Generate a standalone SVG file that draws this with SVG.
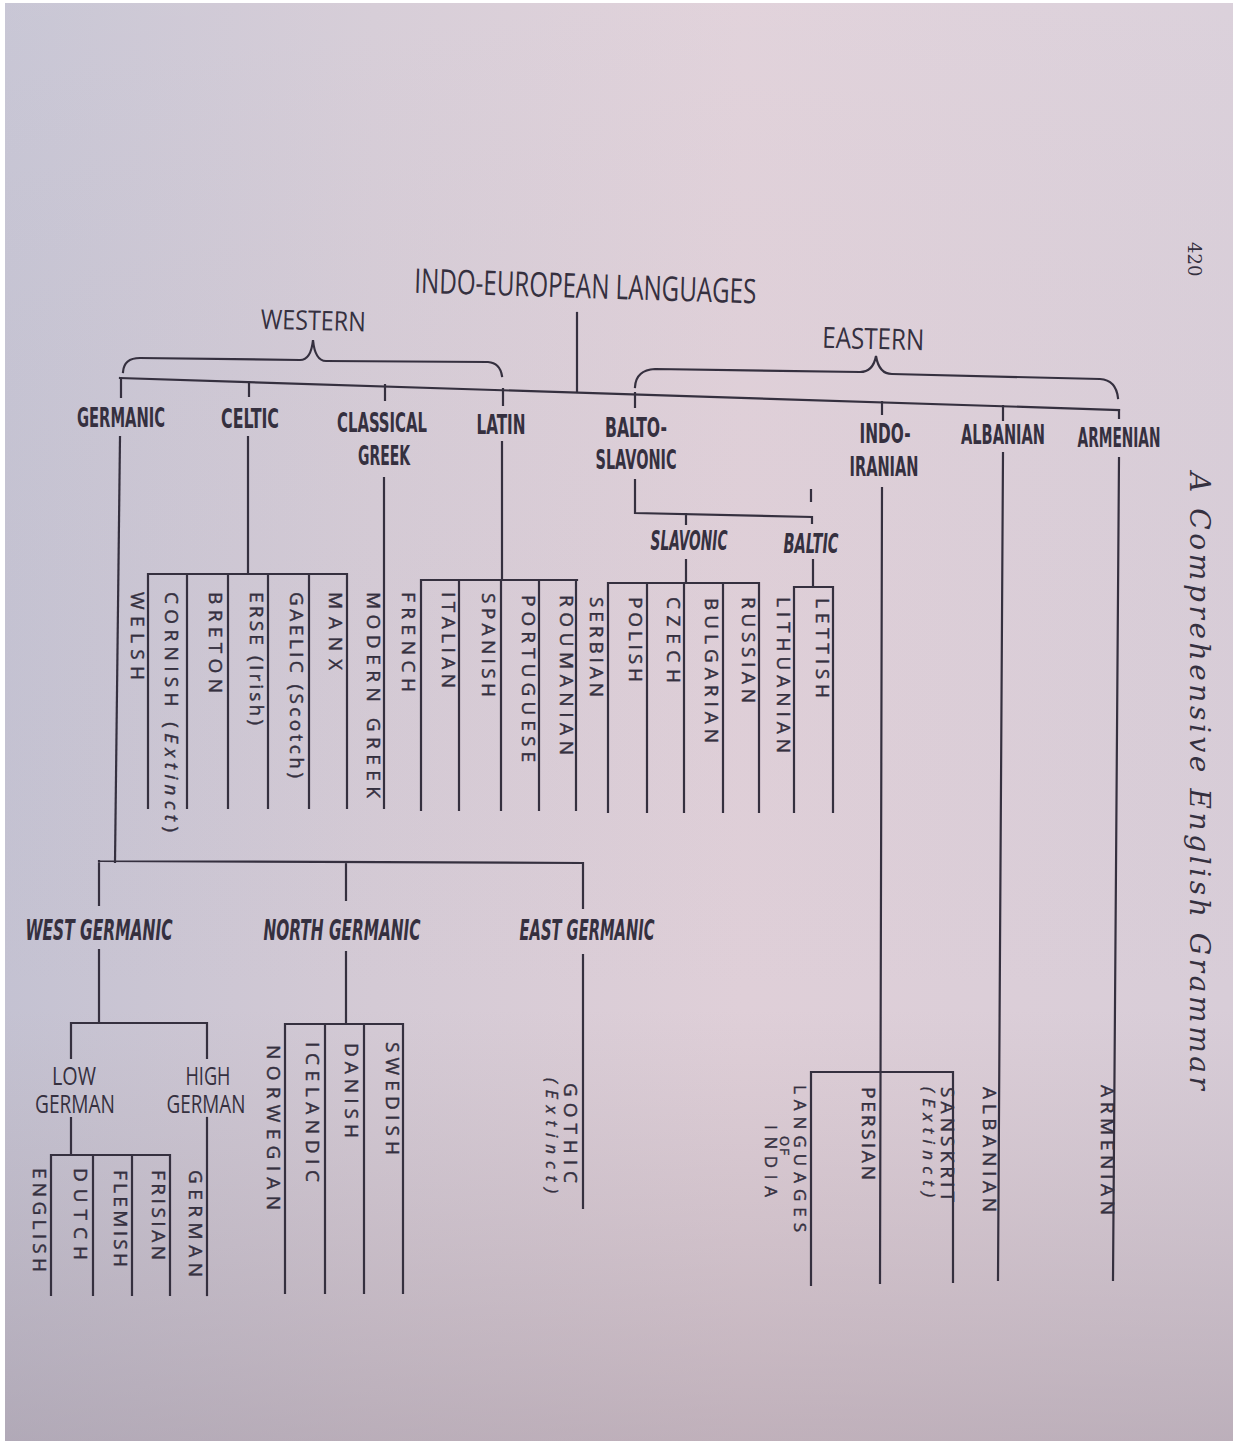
<svg xmlns="http://www.w3.org/2000/svg" width="1239" height="1447" viewBox="0 0 1239 1447">
<defs>
<linearGradient id="bgx" x1="0" y1="0" x2="1" y2="0">
<stop offset="0" stop-color="#c4c2d2"/>
<stop offset="0.3" stop-color="#d4cad5"/>
<stop offset="0.6" stop-color="#dfcfd8"/>
<stop offset="1" stop-color="#d8cdd8"/>
</linearGradient>
<linearGradient id="bgy" x1="0" y1="0" x2="0" y2="1">
<stop offset="0" stop-color="#ffffff" stop-opacity="0.08"/>
<stop offset="0.7" stop-color="#a8999f" stop-opacity="0"/>
<stop offset="1" stop-color="#9a8b97" stop-opacity="0.45"/>
</linearGradient>
<style>
.ln{stroke:#35303f;stroke-width:2.2;fill:none;stroke-linecap:square}
.t{font-family:"Open Sans","DejaVu Sans",sans-serif;fill:#35303f}
.lf{font-size:19px;stroke:#35303f;stroke-width:0.45}
.sm{font-size:17px;stroke:#35303f;stroke-width:0.4}
.b{font-family:"DejaVu Sans Condensed","DejaVu Sans",sans-serif;font-weight:bold;font-size:26px;fill:#35303f}
.bi{font-family:"DejaVu Sans Condensed","DejaVu Sans",sans-serif;font-weight:bold;font-style:italic;font-size:28px;fill:#35303f}
.it{font-style:italic}
.sf{font-family:"DejaVu Serif","Liberation Serif",serif;fill:#35303f}
</style>
</defs>
<rect x="0" y="0" width="1239" height="1447" fill="#ffffff"/>
<rect x="5" y="3" width="1228" height="1438" fill="url(#bgx)"/>
<rect x="5" y="3" width="1228" height="1438" fill="url(#bgy)"/>

<g id="connectors">
<path class="ln" d="M120,378 L1119,410"/>
<path class="ln" d="M577,313 V391"/>
<path class="ln" d="M121,378 V397 M249,382 V396 M385,385 V400 M503,389 V405 M635,393 V407 M882,402 V414 M1003,406 V420 M1119,410 V418"/>
<path class="ln" d="M123,372 Q124,358 140,358 L300,360 Q311,360 313,340 Q315,361 326,361 L488,362 Q500,363 502,376"/>
<path class="ln" d="M635,387 Q636,370 655,369 L860,372 Q873,372 876,356 Q879,374 892,374 L1100,379 Q1116,380 1118,398"/>
<path class="ln" d="M120,437 L115,862"/>
<path class="ln" d="M248,437 V574 M148,574 H347 M148,574 V808 M187,574 V808 M228,574 V808 M268,574 V808 M309,574 V808 M347,574 V808"/>
<path class="ln" d="M384,478 V808"/>
<path class="ln" d="M502,442 V580 M421,580 H577 M421,580 V810 M459,580 V810 M501,580 V810 M539,580 V810 M576,580 V810"/>
<path class="ln" d="M635,480 V513 L812,517 V523 M811,490 V501 M686,514 V524"/>
<path class="ln" d="M686,560 V583 M608,583 H759 M608,583 V812 M647,583 V812 M684,583 V812 M723,583 V812 M759,583 V812"/>
<path class="ln" d="M813,560 V587 M794,587 H833 M794,587 V812 M833,587 V812"/>
<path class="ln" d="M99,861 L583,863 M99,861 V905 M346,862 V900 M583,863 V908"/>
<path class="ln" d="M99,950 V1023 M71,1023 H207 M71,1023 V1058 M207,1023 V1058"/>
<path class="ln" d="M71,1118 V1155 M51,1155 H170 M51,1155 V1295 M93,1155 V1295 M132,1155 V1295 M170,1155 V1295"/>
<path class="ln" d="M207,1118 V1295"/>
<path class="ln" d="M346,952 V1024 M285,1024 H403 M285,1024 V1293 M325,1024 V1293 M364,1024 V1293 M403,1024 V1293"/>
<path class="ln" d="M583,955 V1208"/>
<path class="ln" d="M882,488 L880,1283 M811,1072 H953 M811,1072 V1285 M953,1072 V1282"/>
<path class="ln" d="M1003,453 L998,1280"/>
<path class="ln" d="M1119,458 L1113,1280"/>
</g>

<g id="root"><text class="t" x="585" y="298" font-size="34" text-anchor="middle" textLength="342" lengthAdjust="spacingAndGlyphs" transform="rotate(1.8 585 298)">INDO-EUROPEAN LANGUAGES</text></g>
<g id="western"><text class="t" x="313" y="330" font-size="27" text-anchor="middle" textLength="105" lengthAdjust="spacingAndGlyphs" transform="rotate(1.5 313 330)">WESTERN</text></g>
<g id="eastern"><text class="t" x="873" y="349" font-size="29" text-anchor="middle" textLength="102" lengthAdjust="spacingAndGlyphs" transform="rotate(1.5 873 349)">EASTERN</text></g>

<g id="germanic"><text class="b" x="121" y="427" text-anchor="middle" textLength="88" lengthAdjust="spacingAndGlyphs">GERMANIC</text></g>
<g id="celtic"><text class="b" x="250" y="428" text-anchor="middle" textLength="58" lengthAdjust="spacingAndGlyphs">CELTIC</text></g>
<g id="classical-greek"><text class="b" x="382" y="432" text-anchor="middle" textLength="90" lengthAdjust="spacingAndGlyphs">CLASSICAL</text><text class="b" x="384" y="465" text-anchor="middle" textLength="52" lengthAdjust="spacingAndGlyphs">GREEK</text></g>
<g id="latin"><text class="b" x="501" y="434" text-anchor="middle" textLength="49" lengthAdjust="spacingAndGlyphs">LATIN</text></g>
<g id="balto-slavonic"><text class="b" x="636" y="437" text-anchor="middle" textLength="62" lengthAdjust="spacingAndGlyphs">BALTO-</text><text class="b" x="636" y="469" text-anchor="middle" textLength="81" lengthAdjust="spacingAndGlyphs">SLAVONIC</text></g>
<g id="indo-iranian"><text class="b" x="885" y="443" text-anchor="middle" textLength="51" lengthAdjust="spacingAndGlyphs">INDO-</text><text class="b" x="884" y="476" text-anchor="middle" textLength="69" lengthAdjust="spacingAndGlyphs">IRANIAN</text></g>
<g id="albanian-group"><text class="b" x="1003" y="444" text-anchor="middle" textLength="84" lengthAdjust="spacingAndGlyphs">ALBANIAN</text></g>
<g id="armenian-group"><text class="b" x="1119" y="447" text-anchor="middle" textLength="83" lengthAdjust="spacingAndGlyphs">ARMENIAN</text></g>
<g id="slavonic"><text class="bi" x="689" y="550" text-anchor="middle" textLength="77" lengthAdjust="spacingAndGlyphs" style="font-size:26px">SLAVONIC</text></g>
<g id="baltic"><text class="bi" x="811" y="553" text-anchor="middle" textLength="55" lengthAdjust="spacingAndGlyphs" style="font-size:26px">BALTIC</text></g>
<g id="west-germanic"><text class="bi" x="99" y="940" text-anchor="middle" textLength="147" lengthAdjust="spacingAndGlyphs">WEST GERMANIC</text></g>
<g id="north-germanic"><text class="bi" x="342" y="940" text-anchor="middle" textLength="157" lengthAdjust="spacingAndGlyphs">NORTH GERMANIC</text></g>
<g id="east-germanic"><text class="bi" x="587" y="940" text-anchor="middle" textLength="135" lengthAdjust="spacingAndGlyphs">EAST GERMANIC</text></g>
<g id="low-german"><text class="t" x="74" y="1085" font-size="26" text-anchor="middle" textLength="44" lengthAdjust="spacingAndGlyphs">LOW</text><text class="t" x="75" y="1113" font-size="26" text-anchor="middle" textLength="80" lengthAdjust="spacingAndGlyphs">GERMAN</text></g>
<g id="high-german"><text class="t" x="208" y="1085" font-size="26" text-anchor="middle" textLength="45" lengthAdjust="spacingAndGlyphs">HIGH</text><text class="t" x="206" y="1113" font-size="26" text-anchor="middle" textLength="79" lengthAdjust="spacingAndGlyphs">GERMAN</text></g>

<g id="welsh"><text class="t lf" transform="translate(131,592) rotate(90)" textLength="88">WELSH</text></g>
<g id="cornish"><text class="t lf" transform="translate(165,592) rotate(90)" textLength="240">CORNISH (<tspan class="it">Extinct</tspan>)</text></g>
<g id="breton"><text class="t lf" transform="translate(209,592) rotate(90)" textLength="101">BRETON</text></g>
<g id="erse"><text class="t lf" transform="translate(250,592) rotate(90)" textLength="133">ERSE (Irish)</text></g>
<g id="gaelic"><text class="t lf" transform="translate(290,592) rotate(90)" textLength="186">GAELIC (Scotch)</text></g>
<g id="manx"><text class="t lf" transform="translate(329,592) rotate(90)" textLength="78">MANX</text></g>
<g id="modern-greek"><text class="t lf" transform="translate(367,592) rotate(90)" textLength="206">MODERN GREEK</text></g>
<g id="french"><text class="t lf" transform="translate(402,592) rotate(90)" textLength="100">FRENCH</text></g>
<g id="italian"><text class="t lf" transform="translate(442,592) rotate(90)" textLength="96">ITALIAN</text></g>
<g id="spanish"><text class="t lf" transform="translate(482,593) rotate(90)" textLength="104">SPANISH</text></g>
<g id="portuguese"><text class="t lf" transform="translate(522,595) rotate(90)" textLength="167">PORTUGUESE</text></g>
<g id="roumanian"><text class="t lf" transform="translate(560,595) rotate(90)" textLength="160">ROUMANIAN</text></g>
<g id="serbian"><text class="t lf" transform="translate(590,597) rotate(90)" textLength="100">SERBIAN</text></g>
<g id="polish"><text class="t lf" transform="translate(629,597) rotate(90)" textLength="85">POLISH</text></g>
<g id="czech"><text class="t lf" transform="translate(667,597) rotate(90)" textLength="86">CZECH</text></g>
<g id="bulgarian"><text class="t lf" transform="translate(705,598) rotate(90)" textLength="145">BULGARIAN</text></g>
<g id="russian"><text class="t lf" transform="translate(742,597) rotate(90)" textLength="106">RUSSIAN</text></g>
<g id="lithuanian"><text class="t lf" transform="translate(777,597) rotate(90)" textLength="156">LITHUANIAN</text></g>
<g id="lettish"><text class="t lf" transform="translate(816,598) rotate(90)" textLength="100">LETTISH</text></g>
<g id="english"><text class="t lf" transform="translate(33,1168) rotate(90)" textLength="104">ENGLISH</text></g>
<g id="dutch"><text class="t lf" transform="translate(74,1168) rotate(90)" textLength="92">DUTCH</text></g>
<g id="flemish"><text class="t lf" transform="translate(114,1170) rotate(90)" textLength="97">FLEMISH</text></g>
<g id="frisian"><text class="t lf" transform="translate(152,1170) rotate(90)" textLength="90">FRISIAN</text></g>
<g id="german"><text class="t lf" transform="translate(189,1170) rotate(90)" textLength="107">GERMAN</text></g>
<g id="norwegian"><text class="t lf" transform="translate(267,1045) rotate(90)" textLength="165">NORWEGIAN</text></g>
<g id="icelandic"><text class="t lf" transform="translate(306,1042) rotate(90)" textLength="140">ICELANDIC</text></g>
<g id="danish"><text class="t lf" transform="translate(345,1043) rotate(90)" textLength="95">DANISH</text></g>
<g id="swedish"><text class="t lf" transform="translate(386,1042) rotate(90)" textLength="113">SWEDISH</text></g>
<g id="gothic"><text class="t lf" transform="translate(564,1083) rotate(90)" textLength="100">GOTHIC</text><text class="t sm it" transform="translate(546,1078) rotate(90)" textLength="115">(Extinct)</text></g>
<g id="languages-of-india"><text class="t sm" transform="translate(794,1085) rotate(90)" textLength="147">LANGUAGES</text><text class="t sm" transform="translate(780,1136) rotate(90)" textLength="19" style="font-size:13px">OF</text><text class="t sm" transform="translate(765,1125) rotate(90)" textLength="72">INDIA</text></g>
<g id="persian"><text class="t lf" transform="translate(862,1087) rotate(90)" textLength="93">PERSIAN</text></g>
<g id="sanskrit"><text class="t lf" transform="translate(941,1087) rotate(90)" textLength="115">SANSKRIT</text><text class="t sm it" transform="translate(923,1087) rotate(90)" textLength="110">(Extinct)</text></g>
<g id="albanian"><text class="t lf" transform="translate(983,1087) rotate(90)" textLength="125">ALBANIAN</text></g>
<g id="armenian"><text class="t lf" transform="translate(1101,1085) rotate(90)" textLength="130">ARMENIAN</text></g>

<g id="page-header">
<text class="sf" font-size="18" transform="translate(1188,242) rotate(90)">420</text>
<text class="sf it" font-size="28" transform="translate(1190,472) rotate(90)" textLength="618">A Comprehensive English Grammar</text>
</g>
</svg>
